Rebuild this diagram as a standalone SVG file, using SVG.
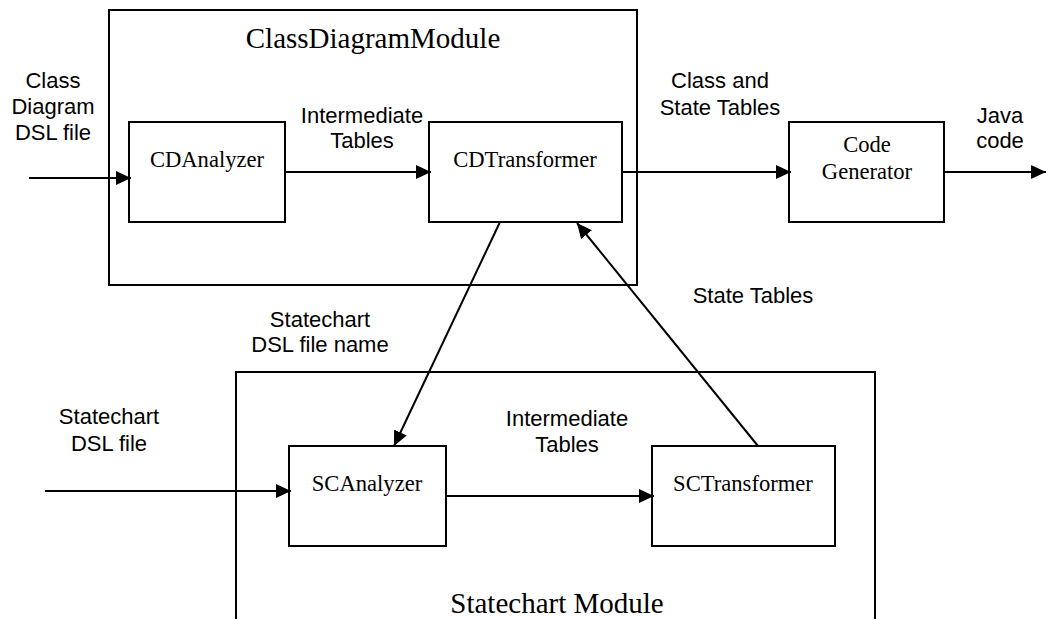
<svg xmlns="http://www.w3.org/2000/svg" width="1046" height="619" viewBox="0 0 1046 619">
<style>
.box{fill:none;stroke:#000;stroke-width:2}
.mod{fill:none;stroke:#000;stroke-width:2}
.con{stroke:#000;stroke-width:2;fill:none;marker-end:url(#arr)}
.sans{font-family:"Liberation Sans",Arial,sans-serif;font-size:22px;fill:#000;text-anchor:middle}
.serif{font-family:"Liberation Serif","Times New Roman",serif;font-size:22.6px;fill:#000;text-anchor:middle}
.title{font-family:"Liberation Serif","Times New Roman",serif;font-size:29px;fill:#000;text-anchor:middle}
</style>
<defs>
<marker id="arr" markerUnits="userSpaceOnUse" markerWidth="16" markerHeight="14" refX="15" refY="7" orient="auto">
<path d="M0,0 L15,7 L0,14 z" fill="#000"/>
</marker>
</defs>
<rect width="1046" height="619" fill="#fff"/>
<g id="ClassDiagramModule">
<rect class="mod" x="109" y="10" width="528" height="275"/>
<text class="title" x="373" y="48">ClassDiagramModule</text>
</g>
<g id="StatechartModule">
<path class="mod" d="M236,625 V372 H875 V625"/>
<text class="title" x="557" y="613">Statechart Module</text>
</g>
<g id="CDAnalyzer">
<rect class="box" x="129" y="122" width="156" height="100"/>
<text class="serif" x="207" y="167">CDAnalyzer</text>
</g>
<g id="CDTransformer">
<rect class="box" x="429" y="122" width="193" height="100"/>
<text class="serif" x="525" y="167">CDTransformer</text>
</g>
<g id="CodeGenerator">
<rect class="box" x="789" y="122" width="155" height="100"/>
<text class="serif" x="867" y="152">Code</text>
<text class="serif" x="867" y="179">Generator</text>
</g>
<g id="SCAnalyzer">
<rect class="box" x="289" y="446" width="157" height="100"/>
<text class="serif" x="367" y="491">SCAnalyzer</text>
</g>
<g id="SCTransformer">
<rect class="box" x="652" y="446" width="183" height="100"/>
<text class="serif" x="743" y="491">SCTransformer</text>
</g>
<g id="connectors">
<line class="con" x1="29" y1="178" x2="131" y2="178"/>
<line class="con" x1="285" y1="172" x2="431" y2="172"/>
<line class="con" x1="622" y1="172" x2="791" y2="172"/>
<line class="con" x1="944" y1="172" x2="1046" y2="172"/>
<line class="con" x1="500" y1="222" x2="394" y2="446"/>
<line class="con" x1="758" y1="446" x2="577" y2="223"/>
<line class="con" x1="45" y1="491" x2="291" y2="491"/>
<line class="con" x1="446" y1="496" x2="654" y2="496"/>
</g>
<g id="labels">
<text class="sans" x="53" y="88">Class</text>
<text class="sans" x="53" y="114">Diagram</text>
<text class="sans" x="53" y="140">DSL file</text>
<text class="sans" x="362" y="123">Intermediate</text>
<text class="sans" x="362" y="148">Tables</text>
<text class="sans" x="720" y="88">Class and</text>
<text class="sans" x="720" y="115">State Tables</text>
<text class="sans" x="1000" y="123">Java</text>
<text class="sans" x="1000" y="148">code</text>
<text class="sans" x="753" y="303">State Tables</text>
<text class="sans" x="320" y="327">Statechart</text>
<text class="sans" x="320" y="352">DSL file name</text>
<text class="sans" x="109" y="424">Statechart</text>
<text class="sans" x="109" y="451">DSL file</text>
<text class="sans" x="567" y="426">Intermediate</text>
<text class="sans" x="567" y="452">Tables</text>
</g>
</svg>
